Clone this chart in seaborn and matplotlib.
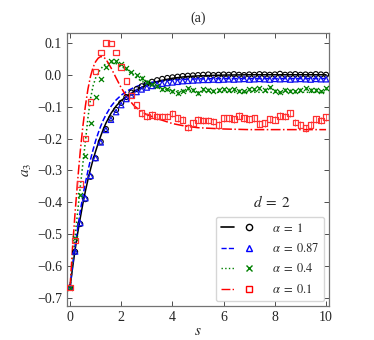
import numpy as np
import pandas as pd
import matplotlib
matplotlib.use("Agg")
import matplotlib.pyplot as plt
import seaborn as sns
from matplotlib.lines import Line2D
from matplotlib.legend_handler import HandlerTuple

# simulation points, s = 0, 0.2, ..., 10
s_pts = np.round(np.arange(0, 10.01, 0.2), 1)

a3_circ = [-0.667, -0.555, -0.468, -0.390, -0.320, -0.262, -0.210, -0.170, -0.137, -0.110,
           -0.088, -0.070, -0.056, -0.045, -0.036, -0.028, -0.022, -0.017, -0.013, -0.010,
           -0.008, -0.006, -0.004, -0.003, -0.002, -0.001, 0.000, 0.001, -0.001, 0.000,
           0.001, 0.000, 0.002, 0.000, -0.001, 0.001, 0.000, 0.002, 0.001, 0.000,
           0.001, 0.003, 0.000, 0.001, 0.002, 0.000, 0.001, 0.000, 0.002, 0.001, 0.000]
a3_tri = [-0.667, -0.554, -0.465, -0.387, -0.317, -0.261, -0.212, -0.173, -0.141, -0.117,
          -0.095, -0.076, -0.065, -0.054, -0.046, -0.040, -0.035, -0.031, -0.028, -0.026,
          -0.024, -0.022, -0.020, -0.019, -0.018, -0.017, -0.016, -0.016, -0.015, -0.016,
          -0.015, -0.014, -0.015, -0.014, -0.013, -0.015, -0.014, -0.013, -0.014, -0.015,
          -0.013, -0.014, -0.013, -0.015, -0.014, -0.013, -0.014, -0.015, -0.013, -0.014, -0.014]
a3_x = [-0.667, -0.512, -0.376, -0.254, -0.152, -0.071, -0.014, 0.023, 0.044, 0.042,
        0.034, 0.020, 0.010, 0.000, -0.010, -0.022, -0.030, -0.035, -0.045, -0.045,
        -0.052, -0.058, -0.050, -0.042, -0.047, -0.058, -0.045, -0.047, -0.050, -0.047,
        -0.045, -0.047, -0.045, -0.050, -0.052, -0.045, -0.045, -0.042, -0.047, -0.039,
        -0.050, -0.055, -0.047, -0.050, -0.052, -0.047, -0.042, -0.047, -0.047, -0.052, -0.042]
a3_sq = [-0.667, -0.520, -0.342, -0.200, -0.085, 0.010, 0.070, 0.100, 0.098, 0.070,
         0.025, -0.020, -0.065, -0.095, -0.120, -0.131, -0.126, -0.131, -0.131, -0.131,
         -0.122, -0.136, -0.141, -0.165, -0.152, -0.141, -0.143, -0.143, -0.146, -0.157,
         -0.136, -0.136, -0.139, -0.129, -0.136, -0.139, -0.136, -0.154, -0.152, -0.139,
         -0.141, -0.129, -0.131, -0.120, -0.150, -0.157, -0.167, -0.157, -0.139, -0.143, -0.133]
err_x = [0.0] * 14 + [0.005] * 37
err_sq = [0.0] * 14 + [0.011] * 37

# theory curves
s_line = [0, 0.1, 0.2, 0.3, 0.4, 0.5, 0.6, 0.7, 0.8, 0.9, 1.0, 1.1, 1.2, 1.3, 1.4, 1.6,
          1.8, 2.0, 2.25, 2.5, 2.75, 3.0, 3.5, 4.0, 4.5, 5, 6, 7, 8, 9, 10]
th_1 = [-0.667, -0.605, -0.548, -0.496, -0.449, -0.405, -0.365, -0.329, -0.296, -0.266,
        -0.240, -0.215, -0.192, -0.171, -0.152, -0.121, -0.098, -0.081, -0.065, -0.052,
        -0.041, -0.032, -0.019, -0.011, -0.006, -0.0035, -0.001, 0.0, 0.0, 0.0, 0.0]
th_087 = [-0.667, -0.598, -0.536, -0.480, -0.428, -0.381, -0.339, -0.301, -0.266, -0.235,
          -0.207, -0.183, -0.161, -0.142, -0.126, -0.099, -0.079, -0.064, -0.050, -0.040,
          -0.032, -0.026, -0.020, -0.016, -0.014, -0.013, -0.012, -0.012, -0.012, -0.012, -0.012]
th_04 = [-0.667, -0.585, -0.505, -0.428, -0.352, -0.280, -0.210, -0.135, -0.075, -0.035,
         -0.010, 0.006, 0.018, 0.028, 0.034, 0.038, 0.035, 0.027, 0.013, -0.003,
         -0.018, -0.029, -0.042, -0.049, -0.052, -0.054, -0.055, -0.055, -0.055, -0.055, -0.055]
th_01 = [-0.667, -0.540, -0.430, -0.330, -0.240, -0.163, -0.098, -0.045, -0.005, 0.023,
         0.041, 0.052, 0.057, 0.056, 0.049, 0.022, -0.010, -0.041, -0.073, -0.097,
         -0.113, -0.125, -0.140, -0.153, -0.161, -0.166, -0.170, -0.172, -0.172, -0.172, -0.172]

sns.set_style("ticks")
plt.rcParams["font.family"] = ["Liberation Serif", "DejaVu Serif"]
plt.rcParams["mathtext.fontset"] = "stix"

fig = plt.figure(figsize=(3.74, 3.4), dpi=100)
ax = fig.add_axes([0.179, 0.10, 0.701, 0.803])

# data points
sns.scatterplot(x=s_pts, y=a3_circ, marker="o", s=13, facecolor="none",
                edgecolor="k", linewidth=0.8, ax=ax, zorder=3)
sns.scatterplot(x=s_pts, y=a3_tri, marker="^", s=15, facecolor="none",
                edgecolor="#1010ee", linewidth=0.9, ax=ax, zorder=3)
ax.errorbar(s_pts, a3_x, yerr=err_x, fmt="none", ecolor="g", elinewidth=0.6, zorder=2)
sns.scatterplot(x=s_pts, y=a3_x, marker="x", s=13, color="g", linewidth=0.9, ax=ax, zorder=3)
ax.errorbar(s_pts, a3_sq, yerr=err_sq, fmt="none", ecolor="#ff4040", elinewidth=0.6, zorder=2)
sns.scatterplot(x=s_pts, y=a3_sq, marker="s", s=16, facecolor="none",
                edgecolor="#ff3030", linewidth=0.9, ax=ax, zorder=3)

# theory lines
sns.lineplot(x=s_line, y=th_1, color="k", linestyle="-", linewidth=1.1, ax=ax)
sns.lineplot(x=s_line, y=th_087, color="b", linestyle="--", linewidth=1.1, ax=ax)
sns.lineplot(x=s_line, y=th_04, color="g", linestyle=":", linewidth=1.1, ax=ax)
sns.lineplot(x=s_line, y=th_01, color="r", linestyle="-.", linewidth=1.1, ax=ax)

ax.set_xlim(-0.12, 10.12)
ax.set_ylim(-0.725, 0.131)
ax.set_xticks([0, 2, 4, 6, 8, 10])
ax.set_yticks([0.1, 0.0, -0.1, -0.2, -0.3, -0.4, -0.5, -0.6, -0.7])
ax.set_yticklabels(["0.1", "0.0", "\u22120.1", "\u22120.2", "\u22120.3", "\u22120.4",
                    "\u22120.5", "\u22120.6", "\u22120.7"])
ax.tick_params(direction="in", top=True, right=True, length=3.5, width=0.7,
               labelsize=10, color="0.3")
for sp in ax.spines.values():
    sp.set_color("0.45")
    sp.set_linewidth(0.9)

ax.set_xlabel("$s$", fontsize=11, labelpad=1)
ax.set_ylabel("$a_3$", fontsize=11, labelpad=2)
ax.set_title("(a)", fontsize=10, pad=8)
ax.text(7.9, -0.40, r"$d\;=\;2$", fontsize=11, ha="center", va="center")

handles = [
    (Line2D([], [], color="k", ls="-", lw=1.2),
     Line2D([], [], color="k", marker="o", mfc="none", ls="none", ms=4.5)),
    (Line2D([], [], color="b", ls="--", lw=1.0),
     Line2D([], [], color="b", marker="^", mfc="none", ls="none", ms=5)),
    (Line2D([], [], color="g", ls=":", lw=1.0),
     Line2D([], [], color="g", marker="x", ls="none", ms=5)),
    (Line2D([], [], color="r", ls="-.", lw=1.0),
     Line2D([], [], color="r", marker="s", mfc="none", ls="none", ms=5)),
]
labels = [r"$\alpha\;=\;1$", r"$\alpha\;=\;0.87$", r"$\alpha\;=\;0.4$", r"$\alpha\;=\;0.1$"]
ax.legend(handles, labels, loc="lower right", fontsize=9,
          handler_map={tuple: HandlerTuple(ndivide=None, pad=0.7)},
          handlelength=2.8, handletextpad=1.3, labelspacing=0.6,
          borderaxespad=0.4, frameon=True, fancybox=True, edgecolor="0.8")

fig.savefig("out.png", dpi=100)
